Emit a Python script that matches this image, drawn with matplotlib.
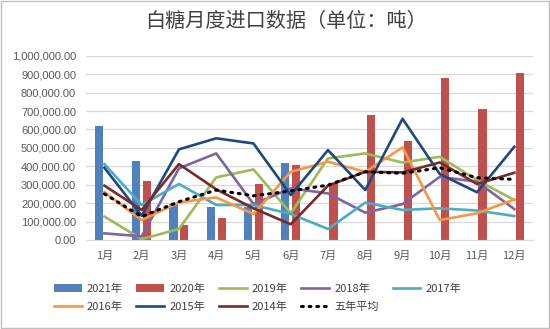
import numpy as np
import matplotlib
matplotlib.use('Agg')
import matplotlib.pyplot as plt
from matplotlib.patches import Rectangle
from matplotlib.ticker import FuncFormatter

plt.rcParams['font.family'] = ['Noto Sans CJK SC', 'DejaVu Sans']

months = ['1月', '2月', '3月', '4月', '5月', '6月', '7月', '8月', '9月', '10月', '11月', '12月']

# bars (tonnes)
y2021 = [618000, 429000, 193000, 181000, 180000, 420000, 0, 0, 0, 0, 0, 0]
y2020 = [0, 320000, 81000, 121000, 302000, 407000, 307000, 678000, 539000, 877000, 709000, 908000]

# lines
y2019 = [127000, 5000, 60000, 340000, 383000, 145000, 443000, 470000, 420000, 452000, 325000, 217000]
y2018 = [36000, 20000, 389000, 470000, 195000, 280000, 253000, 148000, 195000, 343000, 316000, 168000]
y2017 = [412000, 190000, 304000, 190000, 190000, 141000, 60000, 203000, 163000, 172000, 160000, 130000]
y2016 = [260000, 108000, 204000, 231000, 141000, 370000, 425000, 370000, 503000, 108000, 145000, 220000]
y2015 = [392000, 132000, 492000, 552000, 524000, 244000, 488000, 271000, 658000, 358000, 259000, 506000]
y2014 = [295000, 163000, 412000, 275000, 172000, 85000, 295000, 370000, 367000, 421000, 304000, 365000]
avg5 = [250000, 127000, 208000, 271000, 240000, 266000, 298000, 370000, 362000, 392000, 338000, 329000]

lines = [
    ('2019年', y2019, '#9BBB59'),
    ('2018年', y2018, '#8064A2'),
    ('2017年', y2017, '#4BACC6'),
    ('2016年', y2016, '#F79646'),
    ('2015年', y2015, '#1F497D'),
    ('2014年', y2014, '#772C2A'),
]

fig = plt.figure(figsize=(5.5, 3.29), dpi=100)
ax = fig.add_axes([0.156, 0.2705, 0.813, 0.56])

x = np.arange(len(months))
w = 0.22
h = {}
h['2021年'] = ax.bar(x - 0.145, y2021, w, color='#4F81BD', zorder=2)
h['2020年'] = ax.bar(x + 0.145, y2020, w, color='#C0504D', zorder=2)

for name, vals, col in lines:
    h[name], = ax.plot(x, vals, color=col, lw=1.9, zorder=3)
h['五年平均'], = ax.plot(x, avg5, color='black', lw=2.2, linestyle=(0, (0.6, 1.9)),
                      dash_capstyle='round', zorder=4)

ax.set_ylim(0, 1000000)
ax.set_yticks(np.arange(0, 1000001, 100000))
ax.yaxis.set_major_formatter(FuncFormatter(lambda v, p: f'{v:,.2f}'))
ax.set_xlim(-0.5, 11.5)
ax.set_xticks(x)
ax.set_xticklabels(months)
ax.tick_params(axis='both', length=0, labelsize=8, labelcolor='#595959')
ax.tick_params(axis='y', pad=7)
ax.tick_params(axis='x', pad=8)
for lab in ax.get_yticklabels():
    lab.set_family(['Liberation Sans', 'DejaVu Sans'])
    lab.set_fontsize(8)
ax.grid(axis='y', color='#D9D9D9', lw=0.9, zorder=0)
ax.set_axisbelow(True)
for s in ['top', 'right', 'left']:
    ax.spines[s].set_visible(False)
ax.spines['bottom'].set_color('#D9D9D9')

fig.text(0.52, 0.935, '白糖月度进口数据（单位：吨）', ha='center', va='center',
         fontsize=14.5, color='#404040')

# legend fills column by column, so order for row-wise reading
order = ['2021年', '2016年', '2020年', '2015年', '2019年', '2014年', '2018年', '五年平均', '2017年']
fig.legend([h[k] for k in order], order, loc='center', bbox_to_anchor=(0.468, 0.095),
           ncol=5, frameon=False, fontsize=8, handlelength=2.5, handletextpad=0.45,
           columnspacing=1.25, labelspacing=0.65, labelcolor='#404040')

fig.patches.append(Rectangle((0.001, 0.002), 0.997, 0.995, transform=fig.transFigure,
                             fill=False, edgecolor='#BFBFBF', lw=1))

fig.savefig('out.png', dpi=100)
